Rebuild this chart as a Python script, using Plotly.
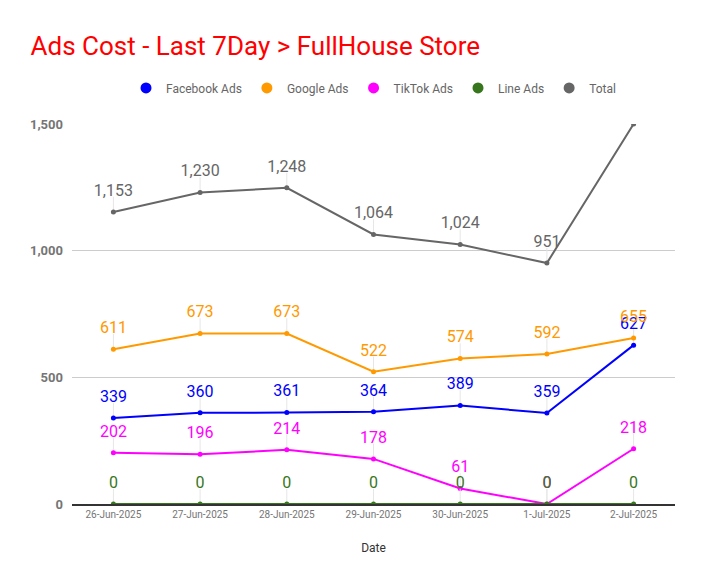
import plotly.graph_objects as go

dates = ["26-Jun-2025", "27-Jun-2025", "28-Jun-2025", "29-Jun-2025",
         "30-Jun-2025", "1-Jul-2025", "2-Jul-2025"]
facebook = [339, 360, 361, 364, 389, 359, 627]
google = [611, 673, 673, 522, 574, 592, 655]
tiktok = [202, 196, 214, 178, 61, 0, 218]
line_ads = [0, 0, 0, 0, 0, 0, 0]
total = [1153, 1230, 1248, 1064, 1024, 951, 1500]

series = [
    ("Facebook Ads", facebook, "#0000FF"),
    ("Google Ads", google, "#FF9900"),
    ("TikTok Ads", tiktok, "#FF00FF"),
    ("Line Ads", line_ads, "#38761D"),
    ("Total", total, "#666666"),
]

fig = go.Figure()
for name, vals, c in series:
    fig.add_trace(go.Scatter(
        x=dates, y=vals, name=name, mode="lines+markers", showlegend=False,
        line=dict(color=c, width=2), marker=dict(size=5, color=c),
        error_y=dict(type="data", symmetric=False, array=[60] * len(vals),
                     arrayminus=[0] * len(vals), color="#E6E6E6",
                     thickness=1, width=0),
        hoverinfo="x+y+name"))
# value labels (transparent markers push the text up a bit)
for name, vals, c in series:
    fig.add_trace(go.Scatter(
        x=dates, y=vals, mode="markers+text", showlegend=False,
        text=[f"{v:,}" for v in vals], textposition="top center",
        textfont=dict(size=16, color=c, family="Roboto"),
        marker=dict(size=18, color="rgba(0,0,0,0)"),
        cliponaxis=True, hoverinfo="skip"))
# legend entries: plain circles
for name, vals, c in series:
    fig.add_trace(go.Scatter(
        x=[None], y=[None], name=name, mode="markers",
        marker=dict(size=11, color=c)))

fig.update_layout(
    width=704, height=585,
    font=dict(family="Roboto", size=12, color="#666666"),
    title=dict(text="Ads Cost - Last 7Day > FullHouse Store",
               font=dict(size=26, color="#FF0000", family="Roboto"),
               x=0.032, xanchor="left", y=0.935, yanchor="middle"),
    legend=dict(orientation="h", x=0.5, xanchor="center", y=1.095,
                yanchor="middle", font=dict(size=12, color="#666666"),
                itemclick=False),
    plot_bgcolor="white", paper_bgcolor="white",
    margin=dict(l=64, r=37, t=116, b=89, autoexpand=False),
    showlegend=True,
)
fig.update_xaxes(title=dict(text="Date", font=dict(size=12, color="#333333"),
                            standoff=25),
                 tickfont=dict(size=10, color="#757575"),
                 showgrid=False, showline=True, linecolor="#333333",
                 linewidth=1.5, ticks="", automargin=False)
fig.update_yaxes(range=[0, 1500], tickvals=[0, 500, 1000, 1500],
                 tickformat=",", tickfont=dict(size=13, color="#757575",
                                               weight="bold"),
                 showgrid=True, gridcolor="#CCCCCC", zeroline=False,
                 ticks="", ticklabelstandoff=8, automargin=False)

fig.write_html("out.html")
